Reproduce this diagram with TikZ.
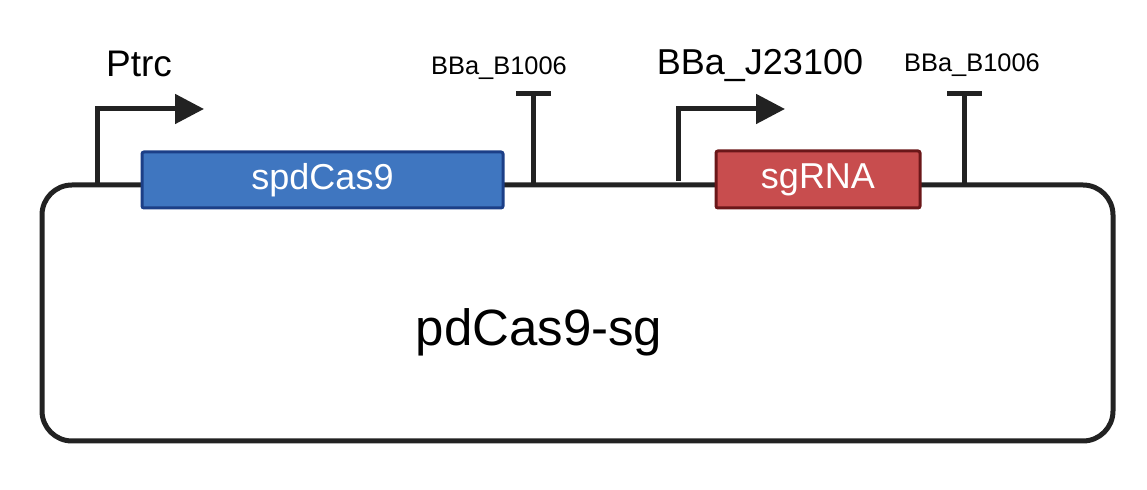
\documentclass[tikz,border=0pt]{standalone}
\usepackage{fontspec}
\setmainfont{Liberation Sans}
\usetikzlibrary{arrows.meta}
\definecolor{ink}{HTML}{222222}
\definecolor{cdsblue}{HTML}{3F76C0}
\definecolor{cdsblueedge}{HTML}{1C3F87}
\definecolor{rnared}{HTML}{C84D4E}
\definecolor{rnarededge}{HTML}{6B1719}
\tikzset{
  wire/.style={draw=ink, line width=2.5pt},
  promo/.style={draw=ink, line width=2.5pt, -{Triangle[length=14.5pt,width=14.5pt]}},
  cds/.style={rectangle, minimum width=180.5pt, minimum height=28pt, line width=1.5pt, text=white, font=\fontsize{18}{20}\selectfont, rounded corners=1pt},
  lbl/.style={text=black, inner sep=0pt}
}
\begin{document}
\begin{tikzpicture}[x=0.5pt,y=-0.5pt]
\useasboundingbox (0,0) rectangle (1147,490);
% backbone
\draw[wire, rounded corners=15pt] (42,185) rectangle (1113,441);
% CDS boxes
\node[cds, fill=cdsblue, draw=cdsblueedge] (spd) at (322.5,180) {spdCas9};
\node[cds, fill=rnared, draw=rnarededge, minimum width=102pt, minimum height=28.5pt] (sg) at (818,179.5) {sgRNA};
% promoters
\coordinate (p1base) at (97,185);
\coordinate (p1tip) at (204,109);
\draw[promo] (p1base) |- (p1tip);
\coordinate (p2base) at (678,181);
\coordinate (p2tip) at (785,109);
\draw[promo] (p2base) |- (p2tip);
% terminators
\coordinate (t1base) at (533,185);
\coordinate (t1top) at (533,94);
\coordinate (t1l) at (516,94);
\coordinate (t1r) at (551,94);
\draw[wire] (t1base) -- (t1top);
\draw[wire] (t1l) -- (t1r);
\coordinate (t2base) at (964,185);
\coordinate (t2top) at (964,94);
\coordinate (t2l) at (947,94);
\coordinate (t2r) at (982,94);
\draw[wire] (t2base) -- (t2top);
\draw[wire] (t2l) -- (t2r);
% labels
\node[lbl, font=\fontsize{18.5}{20}\selectfont] (ptrc) at (139,64) {Ptrc};
\node[lbl, font=\fontsize{12.7}{14}\selectfont] (b1) at (499,68) {BBa\_B1006};
\node[lbl, font=\fontsize{18}{20}\selectfont] (j23) at (760,66) {BBa\_J23100};
\node[lbl, font=\fontsize{12.7}{14}\selectfont] (b2) at (972,65) {BBa\_B1006};
\node[lbl, font=\fontsize{25.5}{28}\selectfont] (name) at (539,332) {pdCas9-sg};
\end{tikzpicture}
\end{document}
